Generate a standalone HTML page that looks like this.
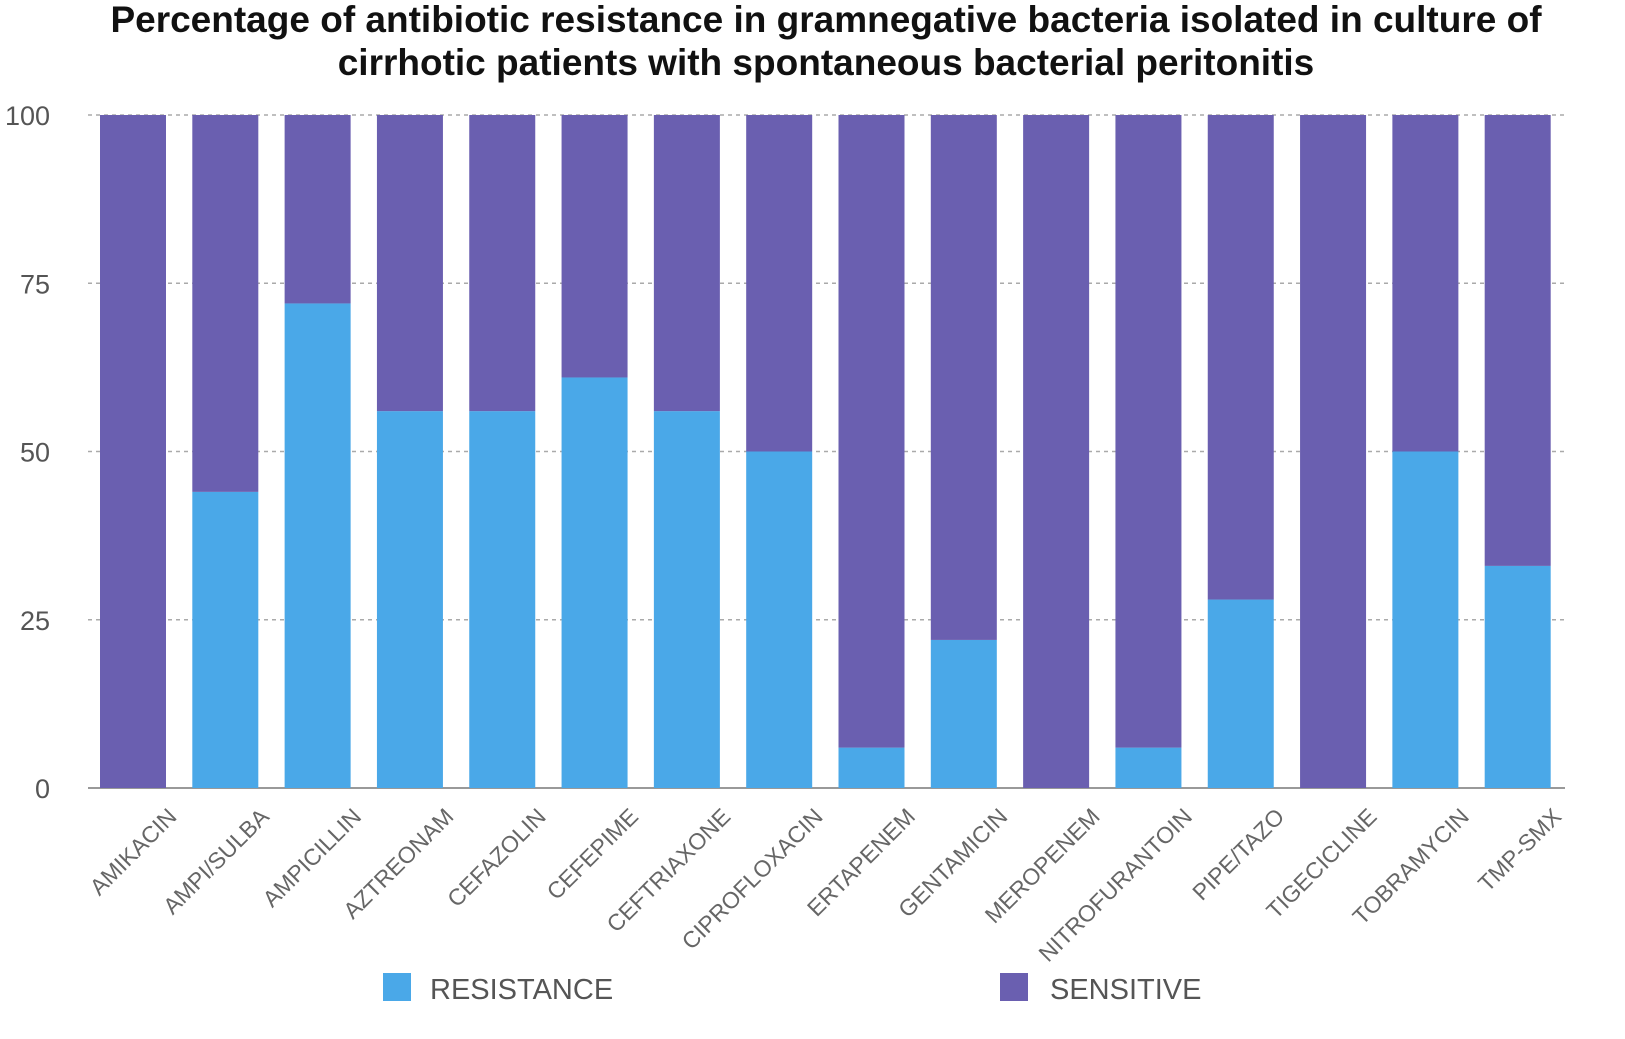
<!DOCTYPE html>
<html><head><meta charset="utf-8"><style>
body{margin:0;background:#fff;}
svg{display:block;font-family:"Liberation Sans",sans-serif;}
</style></head><body>
<svg id="chart" width="1625" height="1039">
<text x="826" y="31" text-anchor="middle" font-size="37" font-weight="bold" fill="#111"><tspan x="826" y="32">Percentage of antibiotic resistance in gramnegative bacteria isolated in culture of</tspan><tspan x="826" y="75">cirrhotic patients with spontaneous bacterial peritonitis</tspan></text>
<g id="grid"></g><g id="bars"></g><g id="xlabels"></g>
<g>
<rect x="383" y="973" width="28" height="28" fill="#4aa8e8"/>
<text x="430" y="999" font-size="29" fill="#555">RESISTANCE</text>
<rect x="1000" y="973" width="28" height="28" fill="#6a5fb0"/>
<text x="1050" y="999" font-size="29" fill="#555">SENSITIVE</text>
</g>
</svg>
<script>
const categories=["AMIKACIN","AMPI/SULBA","AMPICILLIN","AZTREONAM","CEFAZOLIN","CEFEPIME","CEFTRIAXONE","CIPROFLOXACIN","ERTAPENEM","GENTAMICIN","MEROPENEM","NITROFURANTOIN","PIPE/TAZO","TIGECICLINE","TOBRAMYCIN","TMP-SMX"];
const resistance=[0,44,72,56,56,61,56,50,6,22,0,6,28,0,50,33];
const sensitive=[100,56,28,44,44,39,44,50,94,78,100,94,72,100,50,67];
const yTicks=[0,25,50,75,100];
const NS="http://www.w3.org/2000/svg";
const x0=88,x1=1565,yTop=115,yBot=788;
const band=(x1-x0)/categories.length;
const y=v=>yBot-(v/100)*(yBot-yTop);
const bx=i=>x0+i*band+12;
const bw=66;
function mk(tag,attrs,parent){const e=document.createElementNS(NS,tag);for(const k in attrs)e.setAttribute(k,attrs[k]);parent.appendChild(e);return e;}
const grid=document.getElementById('grid'),bars=document.getElementById('bars'),xl=document.getElementById('xlabels');
yTicks.forEach(t=>{
  const l=mk('line',{x1:x0,x2:x1,y1:y(t),y2:y(t),stroke:t===0?'#999':'#aaa','stroke-width':t===0?2:1.5,'stroke-dasharray':t===0?'none':'4,4'},grid);
  
  
  const tx=mk('text',{x:50,y:y(t)+10,'text-anchor':'end','font-size':27,fill:'#555'},grid);
  tx.textContent=t;
  
  
});
categories.forEach((c,i)=>{
  const r=mk('rect',{x:bx(i),y:y(resistance[i]),width:bw,height:y(0)-y(resistance[i]),fill:'#4aa8e8'},bars);
  
  
  const s=mk('rect',{x:bx(i),y:y(resistance[i]+sensitive[i]),width:bw,height:y(resistance[i])-y(resistance[i]+sensitive[i]),fill:'#6a5fb0'},bars);
  
  
  const cx=bx(i)+bw/2+45, cy=818;
  const t=mk('text',{x:cx,y:cy,'text-anchor':'end','font-size':23,fill:'#666',transform:`rotate(-45 ${cx} ${cy})`},xl);
  t.textContent=c;
  
  
});
</script>
</body></html>
